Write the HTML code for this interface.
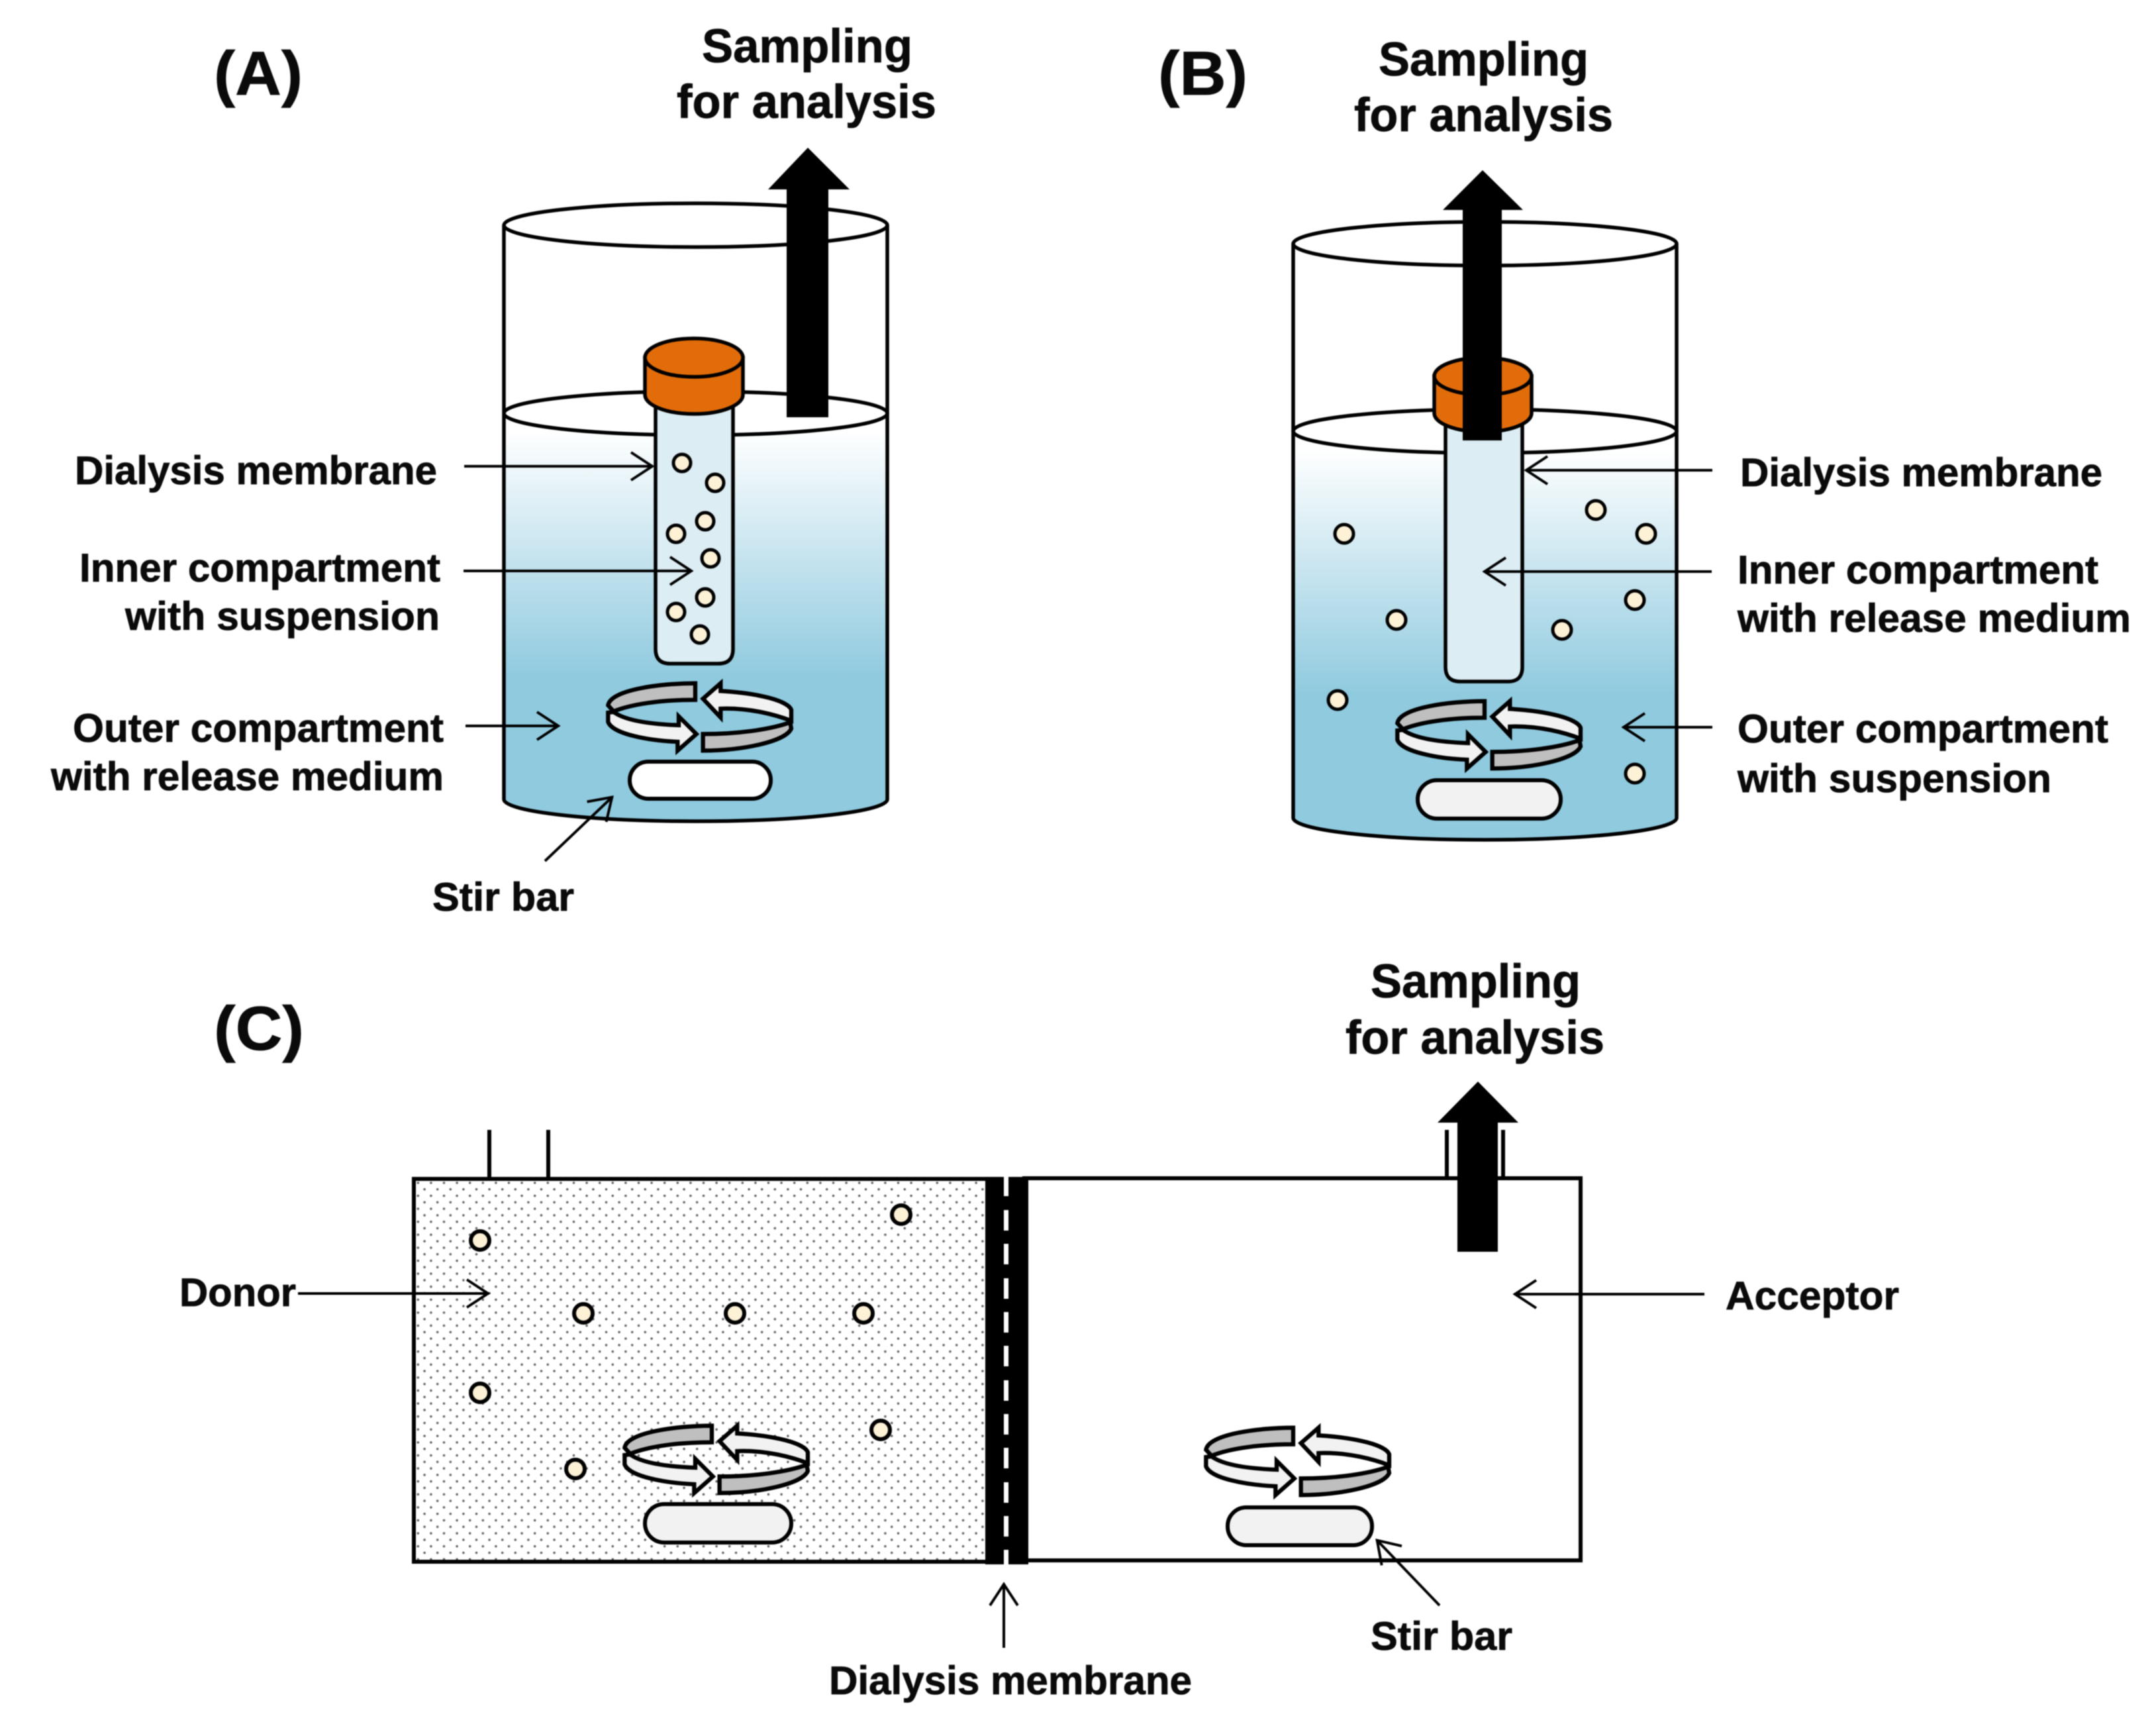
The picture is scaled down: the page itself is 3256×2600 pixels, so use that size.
<!DOCTYPE html>
<html>
<head>
<meta charset="utf-8">
<style>
html,body{margin:0;padding:0;background:#fff;}
svg{display:block;filter:blur(0.8px);}
text{font-family:"Liberation Sans",Arial,sans-serif;font-weight:bold;fill:#0a0a0a;stroke:#0a0a0a;stroke-width:0.8px;}
.l{font-size:60px;}
.s{font-size:71px;}
.h{font-size:94px;}
</style>
</head>
<body>
<svg xmlns="http://www.w3.org/2000/svg" width="3256" height="2600" viewBox="0 0 3256 2600">
<defs>
<linearGradient id="wa" gradientUnits="userSpaceOnUse" x1="0" y1="650" x2="0" y2="1020">
<stop offset="0" stop-color="#ffffff"/><stop offset="1" stop-color="#90cadf"/>
</linearGradient>
<linearGradient id="wb" gradientUnits="userSpaceOnUse" x1="0" y1="677" x2="0" y2="1047">
<stop offset="0" stop-color="#ffffff"/><stop offset="1" stop-color="#90cadf"/>
</linearGradient>
<pattern id="dots" patternUnits="userSpaceOnUse" x="920.3" y="2133.7" width="19.6" height="19.6">
<circle cx="5" cy="5" r="1.8" fill="#666"/>
<circle cx="14.8" cy="14.8" r="1.8" fill="#666"/>
</pattern>
<marker id="ch" markerUnits="userSpaceOnUse" markerWidth="44" markerHeight="52" refX="38" refY="26" orient="auto">
<path d="M5,5 L37,26 L5,47" fill="none" stroke="#000" stroke-width="4"/>
</marker>
<g id="stir" stroke="#000" stroke-width="19" stroke-linejoin="miter">
<g transform="translate(880,1000) scale(0.3333)">
<path d="M510,95 C350,95 125,125 115,195 L140,222 C220,190 350,170 510,170 Z" fill="#bfbfbf"/>
<path d="M115,228 L115,270 C135,325 300,355 430,360 L430,400 L515,325 L435,245 L435,285 C300,280 190,262 140,225 Z" fill="#f2f2f2"/>
<path d="M545,400 L545,325 C700,325 850,305 940,272 L945,300 C920,360 720,400 545,400 Z" fill="#bfbfbf"/>
<path d="M545,165 L625,95 L625,130 C800,140 930,175 945,215 L945,265 C880,240 760,205 625,210 L625,250 Z" fill="#f2f2f2"/>
</g>
</g>
</defs>

<rect width="3256" height="2600" fill="#fff"/>

<!-- A -->
<g fill="none" stroke="#000" stroke-width="5.5">
<path d="M761,1207 L761,624 A289.5,33 0 0 0 1340,624 L1340,1207 A289.5,33 0 0 1 761,1207 Z" fill="url(#wa)" stroke="none"/>
<path d="M761,340 L761,1207 A289.5,33 0 0 0 1340,1207 L1340,340"/>
<ellipse cx="1050.5" cy="340" rx="289.5" ry="33"/>
<ellipse cx="1050.5" cy="624" rx="289.5" ry="33"/>
<path d="M990,600 L990,980 Q990,1002 1012,1002 L1085,1002 Q1107,1002 1107,980 L1107,600 Z" fill="#dcedf4"/>
<path d="M974,540 L974,596 A74,29 0 0 0 1122,596 L1122,540 Z" fill="#e36c0a"/>
<ellipse cx="1048" cy="540" rx="74" ry="29" fill="#e36c0a"/>
</g>
<path d="M1188,630 L1188,286 L1160,286 L1220,223 L1283,286 L1251,286 L1251,630 Z" fill="#000"/>
<g fill="#fdf1d6" stroke="#000" stroke-width="5">
<circle cx="1030" cy="699" r="13"/><circle cx="1080" cy="729" r="13"/><circle cx="1065" cy="787" r="13"/><circle cx="1021" cy="806" r="13"/><circle cx="1073" cy="843" r="13"/><circle cx="1065" cy="902" r="13"/><circle cx="1021" cy="924" r="13"/><circle cx="1057" cy="958" r="13"/>
</g>
<use href="#stir"/>
<rect x="951" y="1150" width="213" height="56" rx="28" fill="#fff" stroke="#000" stroke-width="6"/>
<g stroke="#000" stroke-width="4" fill="none">
<path d="M701,704 L986,704" marker-end="url(#ch)"/>
<path d="M700,862 L1045,862" marker-end="url(#ch)"/>
<path d="M703,1096 L844,1096" marker-end="url(#ch)"/>
<path d="M823,1300 L925,1203" marker-end="url(#ch)"/>
</g>
<text class="h" x="323" y="143" textLength="134" lengthAdjust="spacingAndGlyphs">(A)</text>
<text class="s" x="1060" y="94" textLength="318" lengthAdjust="spacingAndGlyphs">Sampling</text>
<text class="s" x="1022" y="178" textLength="392" lengthAdjust="spacingAndGlyphs">for analysis</text>
<text class="l" x="113" y="731" textLength="547" lengthAdjust="spacingAndGlyphs">Dialysis membrane</text>
<text class="l" x="120" y="878" textLength="545" lengthAdjust="spacingAndGlyphs">Inner compartment</text>
<text class="l" x="189" y="951" textLength="475" lengthAdjust="spacingAndGlyphs">with suspension</text>
<text class="l" x="110" y="1120" textLength="560" lengthAdjust="spacingAndGlyphs">Outer compartment</text>
<text class="l" x="77" y="1193" textLength="593" lengthAdjust="spacingAndGlyphs">with release medium</text>
<text class="l" x="653" y="1375" textLength="214" lengthAdjust="spacingAndGlyphs">Stir bar</text>

<!-- B -->
<g fill="none" stroke="#000" stroke-width="5.5">
<path d="M1953,1235 L1953,651 A289.5,33 0 0 0 2532,651 L2532,1235 A289.5,33 0 0 1 1953,1235 Z" fill="url(#wb)" stroke="none"/>
<path d="M1953,368 L1953,1235 A289.5,33 0 0 0 2532,1235 L2532,368"/>
<ellipse cx="2242.5" cy="368" rx="289.5" ry="33"/>
<ellipse cx="2242.5" cy="651" rx="289.5" ry="33"/>
<path d="M2190,630 L2190,1007 Q2190,1029 2212,1029 L2285,1029 Q2306,1029 2306,1007 L2306,630 Z" fill="#dcedf4" transform="translate(-7,0)"/>
<path d="M2173,568 L2173,624 A73.5,28 0 0 0 2320,624 L2320,568 Z" fill="#e36c0a" transform="translate(-7,0)"/>
<ellipse cx="2239.5" cy="568" rx="73.5" ry="28" fill="#e36c0a"/>
</g>
<path d="M2209,665 L2209,317 L2179,317 L2239,257 L2300,317 L2268,317 L2268,665 Z" fill="#000"/>
<g fill="#fdf1d6" stroke="#000" stroke-width="5">
<circle cx="2030" cy="806" r="14"/><circle cx="2410" cy="770" r="14"/><circle cx="2486" cy="806" r="14"/><circle cx="2469" cy="906" r="14"/><circle cx="2109" cy="936" r="14"/><circle cx="2359" cy="951" r="14"/><circle cx="2020" cy="1057" r="14"/><circle cx="2469" cy="1168" r="14"/>
</g>
<use href="#stir" transform="translate(1192,27)"/>
<rect x="2141" y="1178" width="216" height="58" rx="29" fill="#f2f2f2" stroke="#000" stroke-width="6"/>
<g stroke="#000" stroke-width="4" fill="none">
<path d="M2586,710 L2304,710" marker-end="url(#ch)"/>
<path d="M2585,863 L2241,863" marker-end="url(#ch)"/>
<path d="M2586,1098 L2451,1098" marker-end="url(#ch)"/>
</g>
<text class="h" x="1749" y="143" textLength="135" lengthAdjust="spacingAndGlyphs">(B)</text>
<text class="s" x="2082" y="114" textLength="317" lengthAdjust="spacingAndGlyphs">Sampling</text>
<text class="s" x="2045" y="198" textLength="391" lengthAdjust="spacingAndGlyphs">for analysis</text>
<text class="l" x="2628" y="734" textLength="547" lengthAdjust="spacingAndGlyphs">Dialysis membrane</text>
<text class="l" x="2624" y="881" textLength="545" lengthAdjust="spacingAndGlyphs">Inner compartment</text>
<text class="l" x="2624" y="954" textLength="594" lengthAdjust="spacingAndGlyphs">with release medium</text>
<text class="l" x="2624" y="1121" textLength="560" lengthAdjust="spacingAndGlyphs">Outer compartment</text>
<text class="l" x="2624" y="1196" textLength="474" lengthAdjust="spacingAndGlyphs">with suspension</text>

<!-- C -->
<path d="M739,1706 L739,1780 M828,1706 L828,1780 M2185,1706 L2185,1779 M2270,1706 L2270,1779" stroke="#000" stroke-width="6" fill="none"/>
<rect x="625" y="1780" width="864" height="578" fill="url(#dots)" stroke="none"/>
<path d="M1490,1780 L625,1780 L625,2358 L1490,2358" fill="none" stroke="#000" stroke-width="6"/>
<path d="M1544,1779 L2387,1779 L2387,2356 L1544,2356" fill="none" stroke="#000" stroke-width="6"/>
<rect x="1488" y="1777" width="65" height="585" fill="#000"/>
<g fill="#fff">
<rect x="1516" y="1775" width="7" height="31"/>
<rect x="1516" y="1827" width="7" height="31"/>
<rect x="1516" y="1878" width="7" height="31"/>
<rect x="1516" y="1930" width="7" height="31"/>
<rect x="1516" y="1981" width="7" height="31"/>
<rect x="1516" y="2032" width="7" height="31"/>
<rect x="1516" y="2084" width="7" height="31"/>
<rect x="1516" y="2135" width="7" height="31"/>
<rect x="1516" y="2186" width="7" height="31"/>
<rect x="1516" y="2238" width="7" height="31"/>
<rect x="1516" y="2289" width="7" height="31"/>
<rect x="1516" y="2340" width="7" height="24"/>
</g>
<path d="M2201,1890 L2201,1695 L2171,1695 L2232,1633 L2293,1695 L2262,1695 L2262,1890 Z" fill="#000"/>
<g fill="#fdf1d6" stroke="#000" stroke-width="6">
<circle cx="725" cy="1873" r="14"/><circle cx="1361" cy="1834" r="14"/><circle cx="881" cy="1983" r="14"/><circle cx="1110" cy="1983" r="14"/><circle cx="1304" cy="1983" r="14"/><circle cx="725" cy="2103" r="14"/><circle cx="1330" cy="2159" r="14"/><circle cx="869" cy="2218" r="14"/>
</g>
<use href="#stir" transform="translate(25,1121)"/>
<rect x="974" y="2271" width="221" height="58" rx="29" fill="#f2f2f2" stroke="#000" stroke-width="6"/>
<use href="#stir" transform="translate(903,1124)"/>
<rect x="1854" y="2276" width="218" height="57" rx="28" fill="#f2f2f2" stroke="#000" stroke-width="6"/>
<g stroke="#000" stroke-width="4" fill="none">
<path d="M450,1953 L738,1953" marker-end="url(#ch)"/>
<path d="M2574,1954 L2287,1954" marker-end="url(#ch)"/>
<path d="M2174,2424 L2079,2325" marker-end="url(#ch)"/>
<path d="M1516,2488 L1516,2391" marker-end="url(#ch)"/>
</g>
<text class="h" x="323" y="1585" textLength="136" lengthAdjust="spacingAndGlyphs">(C)</text>
<text class="s" x="2070" y="1506" textLength="317" lengthAdjust="spacingAndGlyphs">Sampling</text>
<text class="s" x="2032" y="1591" textLength="391" lengthAdjust="spacingAndGlyphs">for analysis</text>
<text class="l" x="271" y="1972" textLength="176" lengthAdjust="spacingAndGlyphs">Donor</text>
<text class="l" x="2606" y="1977" textLength="262" lengthAdjust="spacingAndGlyphs">Acceptor</text>
<text class="l" x="2070" y="2491" textLength="214" lengthAdjust="spacingAndGlyphs">Stir bar</text>
<text class="l" x="1252" y="2558" textLength="548" lengthAdjust="spacingAndGlyphs">Dialysis membrane</text>
</svg>
</body>
</html>
